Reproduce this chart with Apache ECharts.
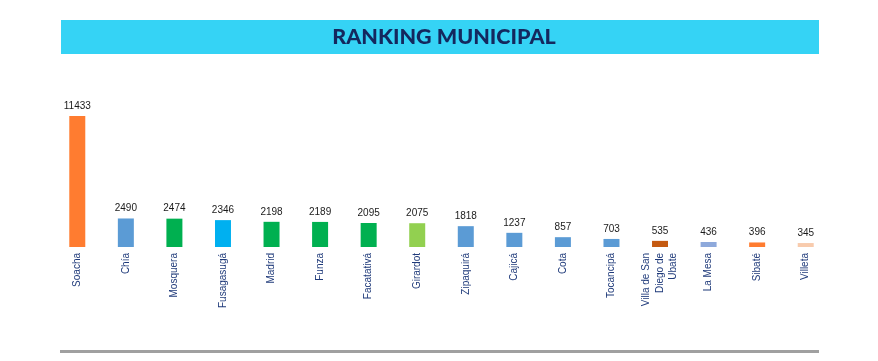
<!DOCTYPE html>
<html><head><meta charset="utf-8">
<script src="https://cdn.jsdelivr.net/npm/echarts@6/dist/echarts.min.js"></script>
<style>html,body{margin:0;padding:0;background:#fff}#c{width:878px;height:361px}</style>
</head><body><div id="c"></div>
<script>
const categories = ["Soacha","Chía","Mosquera","Fusagasugá","Madrid","Funza","Facatativá","Girardot","Zipaquirá","Cajicá","Cota","Tocancipá","Villa de San\nDiego de\nUbate","La Mesa","Sibaté","Villeta"];
const values = [11433,2490,2474,2346,2198,2189,2095,2075,1818,1237,857,703,535,436,396,345];
const barColors = ["#FF7C30","#5B9BD5","#00B050","#00B0F0","#00B050","#00B050","#00B050","#92D050","#5B9BD5","#5B9BD5","#5B9BD5","#5B9BD5","#C55A11","#8EA9DB","#FF7C30","#F8CBAD"];
const titleText = "RANKING MUNICIPAL";

const chart = echarts.init(document.getElementById('c'), null, {renderer:'canvas'});
chart.setOption({
  animation:false,
  graphic:[
    {type:'rect', shape:{x:61,y:20,width:758,height:34}, style:{fill:'#35D3F5'}},
    {type:'text', x:444, y:37, style:{text:titleText, fill:'#14285E', font:'900 21.5px Lato', textAlign:'center', textVerticalAlign:'middle'}},
    {type:'rect', shape:{x:60,y:350,width:759,height:3}, style:{fill:'#A0A0A0'}}
  ],
  grid:{left:53, right:48, top:109.5, bottom:114},
  xAxis:{type:'category', data:categories,
    axisLine:{show:false}, axisTick:{show:false},
    axisLabel:{rotate:90, interval:0, color:'#1F3A7A', fontSize:10, fontFamily:'Liberation Sans', margin:6, lineHeight:13.5}},
  yAxis:{type:'value', min:0, max:12000, show:false, splitLine:{show:false}},
  series:[{type:'bar', barWidth:16,
    data: values.map((v,i)=>({value:v, itemStyle:{color:barColors[i]}})),
    label:{show:true, position:'top', distance:5, color:'#1a1a1a', fontSize:10, fontFamily:'Liberation Sans'}
  }]
});
</script></body></html>
